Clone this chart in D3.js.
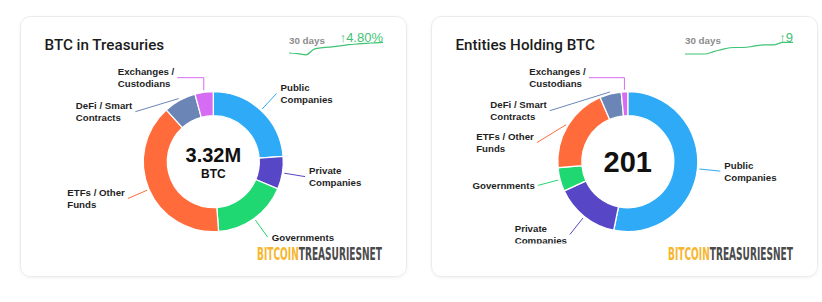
<!DOCTYPE html>
<html>
<head>
<meta charset="utf-8">
<script src="https://cdn.jsdelivr.net/npm/d3@7"></script>
<style>
  body { margin: 0; background: #fff; }
  svg { display: block; }
  .title { font-family: Roboto, "Open Sans", sans-serif; font-weight: 500; font-size: 15.2px; fill: #1b1b1b; }
  .lbl { font-family: "Liberation Sans", Arial, sans-serif; font-weight: bold; font-size: 9.7px; fill: #1f1f1f; }
  .days { font-family: "Liberation Sans", Arial, sans-serif; font-weight: bold; font-size: 9.8px; fill: #8c8c8c; }
  .chg { font-family: "Liberation Sans", Arial, sans-serif; font-size: 13px; fill: #3fc374; }
  .logo { font-family: "Liberation Sans Narrow", "DejaVu Sans Condensed", sans-serif; font-size: 18px; font-weight: bold; }
</style>
</head>
<body>
<div id="chart"></div>
<script>
// Segment names, in clockwise order from 12 o'clock
var categories = [
    ['Public', 'Companies'],
    ['Private', 'Companies'],
    ['Governments'],
    ['ETFs / Other', 'Funds'],
    ['DeFi / Smart', 'Contracts'],
    ['Exchanges /', 'Custodians']
];
var colors = ['#2eaaf6', '#5747c6', '#1fd872', '#ff6b3b', '#6b86b6', '#d66cf4'];

// BTC held, in millions
var btcHeld = [0.79, 0.25, 0.58, 1.31, 0.25, 0.14];
// number of entities
var entityCounts = [107, 30, 11, 40, 10, 3];

// 30 day sparklines
var btcTrend = [3.168, 3.158, 3.142, 3.227, 3.244, 3.256, 3.270, 3.286, 3.297, 3.306, 3.313, 3.320];
var entityTrend = [192, 192, 192, 194, 196, 197, 197, 198, 199, 199, 201, 201];

var width = 822, height = 302;

var svg = d3.select('#chart').append('svg')
    .attr('width', width)
    .attr('height', height);

var defs = svg.append('defs');
var shadow = defs.append('filter').attr('id', 'shadow')
    .attr('x', '-5%').attr('y', '-5%').attr('width', '110%').attr('height', '115%');
shadow.append('feDropShadow')
    .attr('dx', 0).attr('dy', 1).attr('stdDeviation', 1.5)
    .attr('flood-color', '#000').attr('flood-opacity', 0.06);

var outerR = 70, innerR = 46;
var arc = d3.arc().innerRadius(innerR).outerRadius(outerR);
var pie = d3.pie().sort(null).value(function(d) { return d; });

// where crowded labels get pulled to (offset from donut center)
var labelNudge = {
    btc: { 4: { end: [-78, -50] }, 5: { elbowY: -84, end: [-36, -84] } },
    ent: { 3: { end: [-91, -19] }, 4: { end: [-78, -51] }, 5: { elbowY: -84, end: [-39, -84] } }
};

var cards = [
    {
        key: 'btc', x: 20.5, title: 'BTC in Treasuries', values: btcHeld,
        center: [192.8, 145.2], big: '3.32M', bigSize: 20, sub: 'BTC',
        trend: btcTrend, trendX: [268.5, 362.5], change: '\u21914.80%', changeX: 362.5
    },
    {
        key: 'ent', x: 431.5, title: 'Entities Holding BTC', values: entityCounts,
        center: [196.3, 145.2], big: '201', bigSize: 29, sub: null,
        trend: entityTrend, trendX: [253.5, 361.5], change: '\u21919', changeX: 361.5
    }
];

cards.forEach(function(c, ci) {
    var g = svg.append('g').attr('transform', 'translate(' + c.x + ',16.5)');

    g.append('rect')
        .attr('width', 386).attr('height', 260)
        .attr('rx', 10)
        .attr('fill', '#fff')
        .attr('stroke', '#ebebeb')
        .attr('filter', 'url(#shadow)');

    g.append('text').attr('class', 'title')
        .attr('x', 24).attr('y', 33.5)
        .text(c.title);

    // sparkline
    var sx = d3.scaleLinear().domain([0, c.trend.length - 1]).range(c.trendX);
    var sy = d3.scaleLinear().domain(d3.extent(c.trend)).range(ci === 0 ? [38.3, 25.8] : [37.5, 25.8]);
    g.append('path')
        .datum(c.trend)
        .attr('fill', 'none')
        .attr('stroke', '#3fc374')
        .attr('stroke-width', 1.2)
        .attr('d', d3.line()
            .x(function(d, i) { return sx(i); })
            .y(function(d) { return sy(d); })
            .curve(d3.curveMonotoneX));
    g.append('text').attr('class', 'days')
        .attr('x', c.trendX[0]).attr('y', 27)
        .text('30 days');
    g.append('text').attr('class', 'chg')
        .attr('x', c.changeX).attr('y', 25)
        .attr('text-anchor', 'end')
        .text(c.change);

    // donut, clipped at the bottom like the original widget
    var clipId = 'clip' + ci;
    defs.append('clipPath').attr('id', clipId)
        .append('rect').attr('x', 0).attr('y', 40).attr('width', 386).attr('height', 187);

    var chart = g.append('g').attr('clip-path', 'url(#' + clipId + ')');

    var donut = chart.append('g')
        .attr('transform', 'translate(' + c.center[0] + ',' + c.center[1] + ')');

    var slices = pie(c.values);

    donut.selectAll('path.slice')
        .data(slices)
        .enter().append('path')
        .attr('class', 'slice')
        .attr('d', arc)
        .attr('fill', function(d, i) { return colors[i]; })
        .attr('stroke', '#fff')
        .attr('stroke-width', 1.3);

    var nudges = labelNudge[c.key];

    slices.forEach(function(s, i) {
        var mid = (s.startAngle + s.endAngle) / 2;
        var sin = Math.sin(mid), cos = -Math.cos(mid);
        var start = [sin * (outerR + 2), cos * (outerR + 2)];
        var pts = [start];
        var nd = nudges[i];
        var end;
        if (nd) {
            if (nd.elbowY !== undefined) pts.push([start[0], nd.elbowY]);
            end = nd.end;
        } else {
            end = [sin * (outerR + 23), cos * (outerR + 23)];
        }
        pts.push(end);

        donut.append('path')
            .attr('d', d3.line()(pts))
            .attr('fill', 'none')
            .attr('stroke', colors[i])
            .attr('stroke-width', 1);

        var lines = categories[i];
        var t = donut.append('text').attr('class', 'lbl');
        lines.forEach(function(line, li) {
            t.append('tspan')
                .attr('y', end[1] + (li - (lines.length - 1) / 2) * 12 + 3.5)
                .text(line);
        });
        var w = d3.max(t.selectAll('tspan').nodes(), function(n) { return n.getComputedTextLength(); });
        var tx = end[0] > 0 ? end[0] + 4 : end[0] - 3 - w;
        t.selectAll('tspan').attr('x', tx);
    });

    // center figure
    donut.append('text')
        .attr('text-anchor', 'middle')
        .attr('y', c.sub ? 0.5 : 10)
        .style('font-family', '"Liberation Sans", Arial, sans-serif')
        .style('font-weight', 'bold')
        .style('font-size', c.bigSize + 'px')
        .style('fill', '#111')
        .text(c.big);
    if (c.sub) {
        donut.append('text')
            .attr('text-anchor', 'middle')
            .attr('y', 16.5)
            .style('font-family', '"Liberation Sans", Arial, sans-serif')
            .style('font-weight', 'bold')
            .style('font-size', '12px')
            .style('fill', '#111')
            .text(c.sub);
    }

    // logo: squeeze the word mark horizontally into its slot
    var logoG = g.append('g');
    var logo = logoG.append('text').attr('class', 'logo').attr('x', 0).attr('y', 0);
    logo.append('tspan').attr('fill', '#f6b62e').text('BITCOIN');
    logo.append('tspan').attr('fill', '#4b4b4b').text('TREASURIESNET');
    var natural = logo.node().getComputedTextLength();
    logoG.attr('transform', 'translate(236.5,243.5) scale(' + (125 / natural) + ',1)');
});
</script>
</body>
</html>
